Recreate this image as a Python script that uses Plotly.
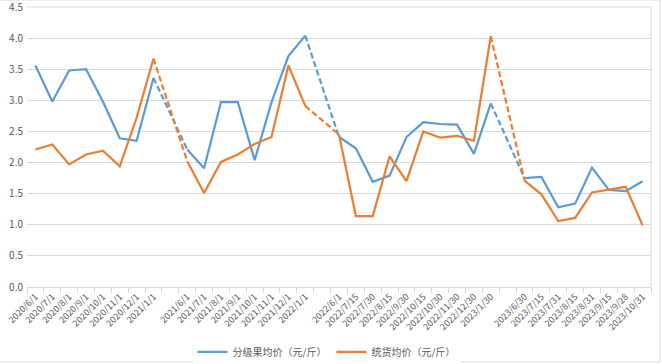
import plotly.graph_objects as go

categories = ["2020/6/1", "2020/7/1", "2020/8/1", "2020/9/1", "2020/10/1", "2020/11/1", "2020/12/1", "2021/1/1", "",
              "2021/6/1", "2021/7/1", "2021/8/1", "2021/9/1", "2021/10/1", "2021/11/1", "2021/12/1", "2022/1/1", "",
              "2022/6/1", "2022/7/15", "2022/7/30", "2022/8/15", "2022/9/30", "2022/10/15", "2022/10/30", "2022/11/30",
              "2022/12/30", "2023/1/30", "",
              "2023/6/30", "2023/7/15", "2023/7/31", "2023/8/15", "2023/8/31", "2023/9/15", "2023/9/28", "2023/10/31"]

graded = [3.56, 2.98, 3.48, 3.50, 2.98, 2.39, 2.35, 3.36, None,
          2.21, 1.91, 2.97, 2.97, 2.04, 2.97, 3.71, 4.04, None,
          2.41, 2.23, 1.69, 1.79, 2.41, 2.65, 2.62, 2.61, 2.14, 2.95, None,
          1.75, 1.77, 1.28, 1.34, 1.92, 1.56, 1.54, 1.70]

bulk = [2.21, 2.29, 1.97, 2.13, 2.19, 1.94, 2.72, 3.67, None,
        2.02, 1.51, 2.01, 2.13, 2.30, 2.41, 3.56, 2.91, None,
        2.45, 1.14, 1.14, 2.10, 1.70, 2.50, 2.40, 2.43, 2.35, 4.03, None,
        1.71, 1.49, 1.06, 1.11, 1.52, 1.56, 1.61, 0.99]

series_names = ["分级果均价（元/斤）", "统货均价（元/斤）"]
y_ticks = [0.0, 0.5, 1.0, 1.5, 2.0, 2.5, 3.0, 3.5, 4.0, 4.5]

colors = ["#5B9BD5", "#ED7D31"]
xs = list(range(len(categories)))

fig = go.Figure()
for name, vals, col in zip(series_names, [graded, bulk], colors):
    fig.add_trace(go.Scatter(x=xs, y=vals, mode="lines", name=name, connectgaps=False,
                             line=dict(color=col, width=2.2), hoverinfo="x+y"))
    # dashed connectors across the empty categories
    for g, v in enumerate(vals):
        if v is None and 0 < g < len(vals) - 1:
            fig.add_trace(go.Scatter(x=[g - 1, g + 1], y=[vals[g - 1], vals[g + 1]], mode="lines",
                                     showlegend=False, line=dict(color=col, width=2.2, dash="6px,3px")))

tickvals = [i for i, c in enumerate(categories) if c]
ticktext = [c for c in categories if c]

font_family = "Noto Sans CJK SC, DejaVu Sans, sans-serif"
fig.update_layout(
    width=662, height=364,
    margin=dict(l=27, r=11, t=7, b=77, autoexpand=False),
    paper_bgcolor="white", plot_bgcolor="white",
    font=dict(family=font_family, color="#595959", size=10),
    showlegend=True,
    legend=dict(orientation="h", x=0.48, xanchor="center", y=-0.232, yanchor="middle",
                font=dict(size=10, color="#595959"), itemwidth=30, tracegroupgap=0),
    xaxis=dict(range=[-0.5, len(categories) - 0.5], tickmode="array", tickvals=tickvals, ticktext=ticktext,
               tickangle=-45, tickfont=dict(size=9, color="#595959"), showgrid=False, zeroline=False,
               showline=True, linecolor="#D9D9D9", linewidth=1, ticks="", automargin=False,
               minor=dict(ticks="outside", tick0=-0.5, dtick=1, ticklen=5, tickcolor="#D9D9D9", showgrid=False)),
    yaxis=dict(range=[0, 4.5], tickmode="array", tickvals=y_ticks, ticktext=[f"{v:.1f}" for v in y_ticks],
               showgrid=True, gridcolor="#D9D9D9", gridwidth=1, zeroline=False, showline=False,
               tickfont=dict(size=10, color="#595959"), automargin=False, ticklabelstandoff=3,
               ticklabeloverflow="allow"),
    shapes=[
        dict(type="line", xref="paper", yref="paper", x0=0, x1=1, y0=1, y1=1,
             line=dict(color="#D9D9D9", width=1), layer="below"),
        dict(type="line", xref="paper", yref="paper", x0=1, x1=1, y0=0, y1=1,
             line=dict(color="#D9D9D9", width=1)),
        dict(type="rect", xref="paper", yref="paper", x0=-0.045, x1=1.0145, y0=-0.268, y1=1.025,
             line=dict(color="#D9D9D9", width=1), layer="above"),
    ],
)

fig.write_html("out.html", config={"displayModeBar": False},
               post_script="document.body.style.margin='0';document.body.style.overflow='hidden';")
